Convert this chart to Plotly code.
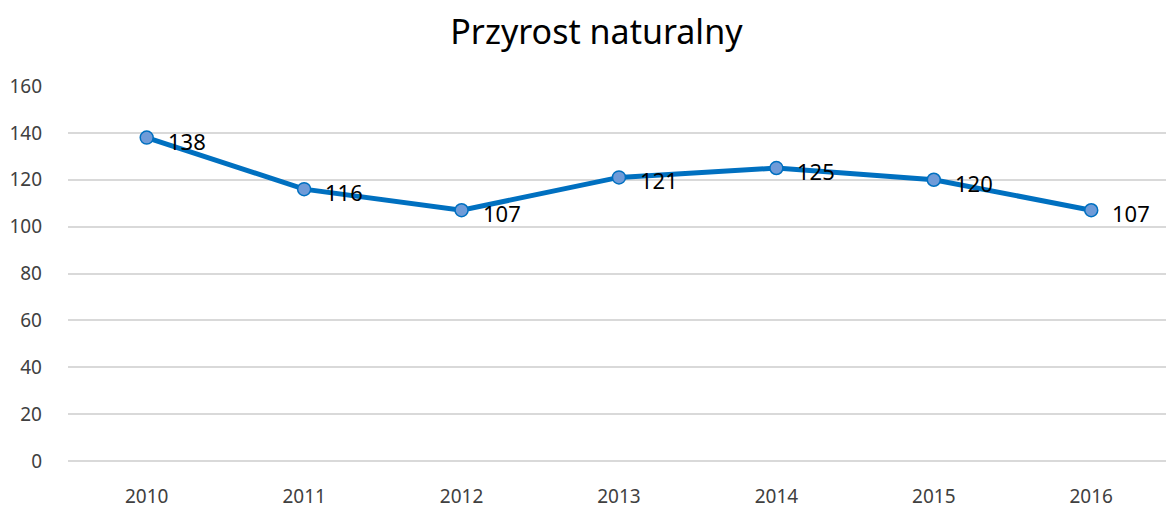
import plotly.graph_objects as go

years = ["2010", "2011", "2012", "2013", "2014", "2015", "2016"]
values = [138, 116, 107, 121, 125, 120, 107]
y_ticks = [0, 20, 40, 60, 80, 100, 120, 140, 160]

FONT = "Noto Sans, Open Sans, sans-serif"

fig = go.Figure()
fig.add_scatter(
    x=years,
    y=values,
    mode="lines+markers",
    line={"color": "#0070C0", "width": 5},
    marker={"size": 13, "color": "#6F9BD8", "line": {"color": "#0070C0", "width": 1.5}},
    showlegend=False,
    cliponaxis=False,
)

# data labels to the right of each point (x as category index)
for i, v in enumerate(values):
    fig.add_annotation(
        x=i,
        y=v,
        text=str(v),
        showarrow=False,
        xanchor="left",
        yanchor="middle",
        xshift=19,
        yshift=-3,
        font={"family": FONT, "size": 22, "color": "#000000"},
    )

fig.update_layout(
    width=1166,
    height=509,
    margin={"l": 68, "r": 0, "t": 86, "b": 48},
    plot_bgcolor="white",
    paper_bgcolor="white",
    title={
        "text": "Przyrost naturalny",
        "x": 0.5115,
        "xref": "container",
        "xanchor": "center",
        "y": 0.937,
        "yref": "container",
        "yanchor": "middle",
        "font": {"family": FONT, "size": 34, "color": "#000000"},
    },
    xaxis={
        "type": "category",
        "range": [-0.5, 6.475],
        "showgrid": False,
        "showline": False,
        "ticks": "",
        "automargin": False,
        "tickfont": {"family": FONT, "size": 19, "color": "#404040"},
        "ticklabelstandoff": 22,
    },
    yaxis={
        "range": [0, 160],
        "tickvals": y_ticks,
        "showgrid": True,
        "gridcolor": "#D9D9D9",
        "gridwidth": 1.5,
        "zeroline": True,
        "zerolinecolor": "#D9D9D9",
        "zerolinewidth": 1.5,
        "showline": False,
        "ticks": "",
        "automargin": False,
        "tickfont": {"family": FONT, "size": 19, "color": "#404040"},
        "ticklabelstandoff": 25,
    },
)

fig.write_html(
    "out.html",
    config={"displayModeBar": False},
    post_script="document.body.style.margin='0';",
)
